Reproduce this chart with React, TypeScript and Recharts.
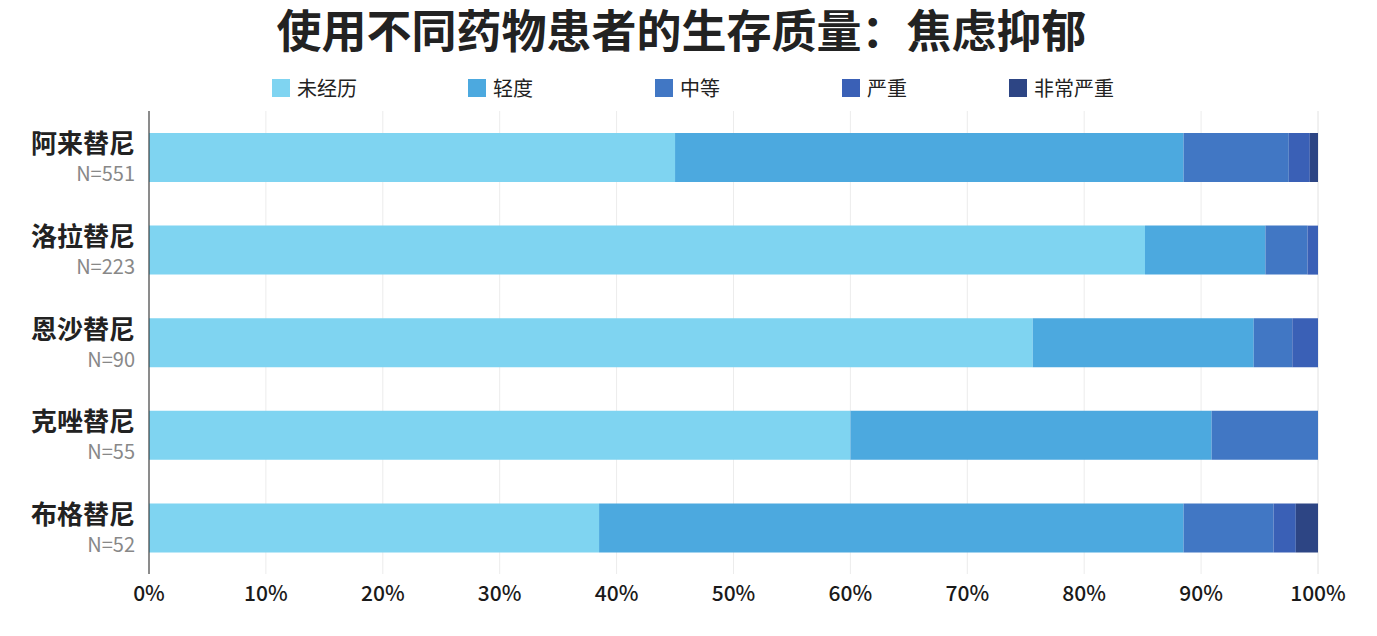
import { BarChart, Bar, XAxis, YAxis, CartesianGrid } from 'recharts';

const categories = ['阿来替尼', '洛拉替尼', '恩沙替尼', '克唑替尼', '布格替尼'];
const sampleSizes = [551, 223, 90, 55, 52];
const none = [45.0, 85.2, 75.6, 60.0, 38.5];
const mild = [43.5, 10.3, 18.9, 30.9, 50.0];
const moderate = [9.0, 3.6, 3.3, 9.1, 7.7];
const severe = [1.8, 0.9, 2.2, 0, 1.9];
const verySevere = [0.7, 0, 0, 0, 1.9];
const xTicks = [0, 10, 20, 30, 40, 50, 60, 70, 80, 90, 100];

const series = [
  { key: 'none', name: '未经历', color: '#7fd4f1' },
  { key: 'mild', name: '轻度', color: '#4ca9df' },
  { key: 'moderate', name: '中等', color: '#4177c4' },
  { key: 'severe', name: '严重', color: '#3a60b6' },
  { key: 'verySevere', name: '非常严重', color: '#2d4584' },
];
const legendX = [272, 468, 655, 842, 1009];

const data = categories.map((c, i) => ({
  drug: c,
  n: sampleSizes[i],
  none: none[i],
  mild: mild[i],
  moderate: moderate[i],
  severe: severe[i],
  verySevere: verySevere[i],
}));

const FONT = '"Noto Sans CJK SC", "Noto Sans", sans-serif';

function DrugTick(props: any) {
  const { x, y, payload } = props;
  const i = categories.indexOf(payload.value);
  return (
    <g>
      <text x={x} y={y} dy={-4} textAnchor="end" fontSize={26} fontWeight={700} fill="#222" fontFamily={FONT}>
        {payload.value}
      </text>
      <text x={x} y={y} dy={24} textAnchor="end" fontSize={20} fill="#888" fontFamily={FONT}>
        N={sampleSizes[i]}
      </text>
    </g>
  );
}

export default function App() {
  return (
    <div style={{ position: 'absolute', left: 0, top: 0, width: 1377, height: 636, background: '#fff', fontFamily: FONT }}>
      <div style={{ position: 'absolute', left: 0, top: 0, width: 1363, height: 60, textAlign: 'center', fontSize: 45, fontWeight: 700, color: '#222', lineHeight: '58px', whiteSpace: 'nowrap' }}>
        使用不同药物患者的生存质量：焦虑抑郁
      </div>
      {series.map((s, i) => (
        <div key={s.key} style={{ position: 'absolute', left: legendX[i], top: 76, display: 'flex', alignItems: 'center', fontSize: 20, color: '#222', lineHeight: '24px' }}>
          <span style={{ display: 'inline-block', width: 18, height: 18, background: s.color, marginRight: 7 }} />
          {s.name}
        </div>
      ))}
      <div style={{ position: 'absolute', left: 0, top: 0 }}>
        <BarChart width={1377} height={636} data={data} layout="vertical" margin={{ top: 111, right: 59, bottom: 22, left: 0 }} barCategoryGap={0}>
          <CartesianGrid horizontal={false} stroke="#ececec" />
          <XAxis
            type="number"
            domain={[0, 100]}
            ticks={xTicks}
            tickFormatter={(v) => `${v}%`}
            axisLine={false}
            tickLine={false}
            height={40}
            tick={{ fontSize: 21, fill: '#1a1a1a', fontFamily: FONT, fontWeight: 500 }}
            tickMargin={6}
          />
          <YAxis
            type="category"
            dataKey="drug"
            width={149}
            axisLine={{ stroke: '#222' }}
            tickLine={false}
            tick={<DrugTick />}
            tickMargin={8}
          />
          {series.map((s) => (
            <Bar key={s.key} dataKey={s.key} name={s.name} stackId="a" fill={s.color} barSize={49} isAnimationActive={false} />
          ))}
        </BarChart>
      </div>
    </div>
  );
}
